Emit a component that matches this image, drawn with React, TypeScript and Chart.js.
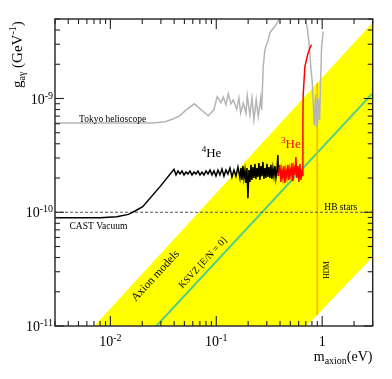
import React, { useEffect, useRef } from 'react';
import { Chart, registerables } from 'chart.js';

Chart.register(...registerables);

// ---- axis ranges & tick labels ----
const X_MIN = 0.003;
const X_MAX = 3;
const Y_MIN = 1e-11;
const Y_MAX = 5e-9;
const X_LABEL_VALUES = [0.01, 0.1, 1];
const X_LABEL_EXPS = ['-2', '-1', ''];
const Y_LABEL_VALUES = [1e-11, 1e-10, 1e-9];
const Y_LABEL_EXPS = ['-11', '-10', '-9'];

// ---- axion model band (upper and lower edges) ----
const AXION_UPPER_M = [0.00706, 3];
const AXION_UPPER_G = [1e-11, 4.66e-9];
const AXION_LOWER_M = [0.00706, 0.713, 3];
const AXION_LOWER_G = [1e-11, 1e-11, 4.06e-11];

// ---- KSVZ line ----
const KSVZ_M = [0.0272, 3];
const KSVZ_G = [1e-11, 1.116e-9];

// ---- HDM line ----
const HDM_M = [0.897, 0.897];
const HDM_G = [1.245e-11, 1.367e-9];

// ---- HB stars ----
const HB_M = [0.003, 3];
const HB_G = [1e-10, 1e-10];

// ---- Tokyo helioscope ----
const TOKYO1_M = [0.003, 0.025, 0.033, 0.039, 0.045, 0.052, 0.062, 0.084, 0.095, 0.102,
  0.1107, 0.1164, 0.1234, 0.1298, 0.1376, 0.1447, 0.1558, 0.1637, 0.1699, 0.1798,
  0.1907, 0.1961, 0.2079, 0.2173, 0.2268, 0.2384, 0.249, 0.2624, 0.2682, 0.2776,
  0.288, 0.3095, 0.321, 0.3579, 0.3928, 0.41];
const TOKYO1_G = [6.1e-10, 6.1e-10, 6.25e-10, 6.6e-10, 7.04e-10, 7.95e-10, 8.98e-10, 7.05e-10, 7.95e-10, 1.04e-9,
  9.22e-10, 1.03e-9, 8.8e-10, 1.1e-9, 8.98e-10, 9.74e-10, 8.06e-10, 1.01e-9, 7.43e-10, 9.11e-10,
  7.43e-10, 1.056e-9, 7.18e-10, 1.01e-9, 6.48e-10, 9.74e-10, 6.94e-10, 1.01e-9, 7.95e-10, 1.91e-9,
  2.69e-9, 3.29e-9, 3.79e-9, 4.31e-9, 4.93e-9, 5.6e-9];
const TOKYO2_M = [0.672, 0.694, 0.722, 0.749, 0.782, 0.805, 0.822, 0.84, 0.866, 0.878,
  0.891, 0.905, 0.917, 0.945, 0.966, 0.987, 1.022];
const TOKYO2_G = [6e-9, 5.04e-9, 4.17e-9, 3.18e-9, 1.86e-9, 1.41e-9, 9.41e-10, 5.86e-10, 1.08e-9, 5.74e-10,
  9.74e-10, 6.0e-10, 1.01e-9, 6.48e-10, 1.41e-9, 2.8e-9, 3.89e-9];

// ---- CAST vacuum + 4He ----
const CAST4_M = [0.003, 0.008, 0.01149, 0.01479, 0.0171, 0.0202, 0.02944, 0.0399, 0.04167,
  0.04351, 0.04545, 0.04747, 0.04958, 0.05178, 0.05408, 0.05648, 0.05899, 0.06161, 0.06434,
  0.0672, 0.07018, 0.0733, 0.07656, 0.07995, 0.08351, 0.08722, 0.09108, 0.09512, 0.09935,
  0.10375, 0.10836, 0.11317, 0.1182, 0.12344, 0.12892, 0.13464, 0.14062, 0.14687, 0.15337,
  0.16019, 0.1673, 0.171, 0.17473, 0.1786, 0.18247, 0.1865, 0.19058, 0.1948, 0.19905,
  0.2034, 0.20787, 0.2125, 0.21711, 0.2219, 0.22675, 0.2318, 0.2368, 0.2421, 0.24732,
  0.2528, 0.2583, 0.2641, 0.26977, 0.2758, 0.28184, 0.288, 0.29434, 0.3008, 0.3074,
  0.3142, 0.32104, 0.3281, 0.33529, 0.3427, 0.35016, 0.3579, 0.36571, 0.3737, 0.38194, 0.3861];
const CAST4_G = [8.95e-11, 8.95e-11, 9.13e-11, 9.58e-11, 1.026e-10, 1.118e-10, 1.68e-10, 2.39e-10, 2.13e-10,
  2.31e-10, 2.17e-10, 2.31e-10, 2.13e-10, 2.26e-10, 2.17e-10, 2.31e-10, 2.13e-10, 2.26e-10, 2.17e-10,
  2.31e-10, 2.13e-10, 2.26e-10, 2.13e-10, 2.31e-10, 2.17e-10, 2.35e-10, 2.13e-10, 2.31e-10, 2.08e-10,
  2.35e-10, 2.13e-10, 2.4e-10, 2.08e-10, 2.35e-10, 2.17e-10, 2.45e-10, 2.04e-10, 2.35e-10, 2.08e-10,
  2.5e-10, 2.0e-10, 2.45e-10, 1.92e-10, 2.55e-10, 2.0e-10, 2.35e-10, 1.81e-10, 2.45e-10, 1.33e-10,
  2.35e-10, 1.85e-10, 2.61e-10, 1.92e-10, 2.5e-10, 2.0e-10, 2.66e-10, 1.96e-10, 2.45e-10, 2.04e-10,
  2.71e-10, 1.92e-10, 2.55e-10, 2.08e-10, 2.77e-10, 1.96e-10, 2.45e-10, 2.0e-10, 2.66e-10, 2.04e-10,
  2.5e-10, 2.0e-10, 2.61e-10, 1.96e-10, 2.45e-10, 2.08e-10, 2.55e-10, 2.0e-10, 2.35e-10, 3.19e-10, 2.08e-10];

// ---- 3He ----
const HE3_M = [0.3861, 0.3903, 0.39892, 0.4076, 0.4166, 0.4257, 0.43511, 0.4446, 0.45446, 0.4645,
  0.47464, 0.485, 0.49574, 0.5066, 0.51782, 0.5291, 0.54075, 0.5526, 0.56481, 0.5772,
  0.58996, 0.6028, 0.61617, 0.6296, 0.64357, 0.65, 0.6575, 0.6619, 0.6868, 0.7284, 0.7656, 0.7943];
const HE3_G = [2.08e-10, 2.08e-10, 2.61e-10, 1.85e-10, 2.35e-10, 2.0e-10, 2.55e-10, 1.81e-10, 2.35e-10, 2.04e-10,
  2.61e-10, 1.92e-10, 2.4e-10, 2.08e-10, 2.71e-10, 1.88e-10, 2.45e-10, 2.13e-10, 3.06e-10, 2.0e-10,
  2.55e-10, 1.85e-10, 2.66e-10, 1.92e-10, 2.35e-10, 2.1e-10, 6.48e-10, 1.08e-9, 1.91e-9, 2.43e-9, 2.78e-9, 2.97e-9];

const FONT = '"Liberation Serif", "Times New Roman", serif';

function pts(ms: number[], gs: number[]) {
  return ms.map((m, i) => ({ x: m, y: gs[i] }));
}

type Part = { t: string; size: number; dy: number };

function drawRich(ctx: CanvasRenderingContext2D, parts: Part[], x: number, y: number, align: 'left' | 'center' | 'right') {
  let w = 0;
  for (const p of parts) {
    ctx.font = `${p.size}px ${FONT}`;
    w += ctx.measureText(p.t).width;
  }
  let cx = align === 'left' ? x : align === 'center' ? x - w / 2 : x - w;
  ctx.textAlign = 'left';
  for (const p of parts) {
    ctx.font = `${p.size}px ${FONT}`;
    ctx.fillText(p.t, cx, y + p.dy);
    cx += ctx.measureText(p.t).width;
  }
}

const framePlugin = {
  id: 'framePlugin',
  afterDraw(chart: any) {
    const { ctx, chartArea: a, scales } = chart;
    const xs = scales.x;
    const ys = scales.y;
    ctx.save();
    ctx.strokeStyle = '#222';
    ctx.lineWidth = 1.4;
    const seg = (x1: number, y1: number, x2: number, y2: number) => {
      ctx.beginPath();
      ctx.moveTo(x1, y1);
      ctx.lineTo(x2, y2);
      ctx.stroke();
    };
    ctx.strokeRect(a.left, a.top, a.right - a.left, a.bottom - a.top);
    ctx.lineWidth = 1.1;
    for (let e = -3; e <= 0; e++) {
      for (let k = 1; k <= 9; k++) {
        const v = k * Math.pow(10, e);
        if (v < X_MIN * 0.999 || v > X_MAX * 1.001) continue;
        const px = xs.getPixelForValue(v);
        const len = k === 1 ? 10 : 5;
        seg(px, a.bottom, px, a.bottom - len);
        seg(px, a.top, px, a.top + len);
      }
    }
    for (let e = -11; e <= -9; e++) {
      for (let k = 1; k <= 9; k++) {
        const v = k * Math.pow(10, e);
        if (v < Y_MIN * 0.999 || v > Y_MAX * 1.001) continue;
        const py = ys.getPixelForValue(v);
        const len = k === 1 ? 9 : 5;
        seg(a.left, py, a.left + len, py);
        seg(a.right, py, a.right - len, py);
      }
    }

    ctx.fillStyle = '#000';
    ctx.textBaseline = 'alphabetic';
    // x tick labels
    X_LABEL_VALUES.forEach((v, i) => {
      const px = xs.getPixelForValue(v);
      const parts: Part[] = X_LABEL_EXPS[i]
        ? [{ t: '10', size: 14, dy: 0 }, { t: X_LABEL_EXPS[i], size: 10, dy: -5 }]
        : [{ t: '1', size: 14, dy: 0 }];
      drawRich(ctx, parts, px, a.bottom + 20, 'center');
    });
    // y tick labels
    Y_LABEL_VALUES.forEach((v, i) => {
      const py = ys.getPixelForValue(v);
      drawRich(ctx, [{ t: '10', size: 14, dy: 0 }, { t: Y_LABEL_EXPS[i], size: 10, dy: -5 }], a.left - 2, py + 5, 'right');
    });
    // x title
    drawRich(ctx, [
      { t: 'm', size: 14, dy: 0 },
      { t: 'axion', size: 10, dy: 3 },
      { t: '(eV)', size: 14, dy: 0 },
    ], 372.5, 361, 'right');
    // y title
    ctx.save();
    ctx.translate(21.5, 88);
    ctx.rotate(-Math.PI / 2);
    drawRich(ctx, [
      { t: 'g', size: 15, dy: 0 },
      { t: 'aγ', size: 10, dy: 3 },
      { t: ' (GeV', size: 15, dy: 0 },
      { t: '-1', size: 10, dy: -6 },
      { t: ')', size: 15, dy: 0 },
    ], 0, 0, 'left');
    ctx.restore();

    // annotations
    drawRich(ctx, [{ t: 'Tokyo helioscope', size: 9.5, dy: 0 }], 79, 121.7, 'left');
    drawRich(ctx, [{ t: 'CAST Vacuum', size: 9.5, dy: 0 }], 69.5, 228.8, 'left');
    drawRich(ctx, [{ t: 'HB stars', size: 9.5, dy: 0 }], 324.3, 210, 'left');
    drawRich(ctx, [{ t: '4', size: 9, dy: -5 }, { t: 'He', size: 13, dy: 0 }], 201.7, 156.5, 'left');
    ctx.fillStyle = '#ff0000';
    drawRich(ctx, [{ t: '3', size: 9, dy: -5 }, { t: 'He', size: 13, dy: 0 }], 281, 147.5, 'left');
    ctx.fillStyle = '#000';

    ctx.textBaseline = 'middle';
    const ang = (-47.3 * Math.PI) / 180;
    ctx.save();
    ctx.translate(155.5, 276);
    ctx.rotate(ang);
    drawRich(ctx, [{ t: 'Axion models', size: 11.5, dy: 0 }], 0, 0, 'center');
    ctx.restore();
    ctx.save();
    ctx.translate(203, 263);
    ctx.rotate(ang);
    drawRich(ctx, [{ t: 'KSVZ [E/N = 0]', size: 9.8, dy: 0 }], 0, 0, 'center');
    ctx.restore();
    ctx.save();
    ctx.translate(326.7, 270);
    ctx.rotate(-Math.PI / 2);
    drawRich(ctx, [{ t: 'HDM', size: 7.5, dy: 0 }], 0, 0, 'center');
    ctx.restore();

    ctx.restore();
  },
};

const lineDs = (label: string, ms: number[], gs: number[], color: string, width: number, order: number, extra: any = {}) => ({
  label,
  data: pts(ms, gs),
  borderColor: color,
  borderWidth: width,
  pointRadius: 0,
  fill: false,
  tension: 0,
  order,
  ...extra,
});

export default function App() {
  const ref = useRef<HTMLCanvasElement>(null);
  useEffect(() => {
    const chart = new Chart(ref.current as HTMLCanvasElement, {
      type: 'line',
      data: {
        datasets: [
          lineDs('Axion models upper', AXION_UPPER_M, AXION_UPPER_G, 'rgba(0,0,0,0)', 0, 20, { fill: '+1', backgroundColor: '#ffff00' }),
          lineDs('Axion models lower', AXION_LOWER_M, AXION_LOWER_G, 'rgba(0,0,0,0)', 0, 21),
          lineDs('KSVZ', KSVZ_M, KSVZ_G, '#50cf88', 2, 6),
          lineDs('HDM', HDM_M, HDM_G, '#ffb400', 1.6, 5),
          lineDs('HB stars', HB_M, HB_G, '#555555', 1, 4, { borderDash: [3, 2] }),
          lineDs('Tokyo helioscope', TOKYO1_M, TOKYO1_G, '#b5b5b5', 1.5, 3),
          lineDs('Tokyo helioscope 2', TOKYO2_M, TOKYO2_G, '#b5b5b5', 1.5, 3),
          lineDs('CAST 4He', CAST4_M, CAST4_G, '#000000', 1.5, 2),
          lineDs('CAST 3He', HE3_M, HE3_G, '#ff0000', 1.5, 1),
        ],
      },
      options: {
        responsive: false,
        animation: false,
        devicePixelRatio: 1,
        events: [],
        layout: { padding: { left: 55, right: 19.3, top: 19, bottom: 53 } },
        scales: {
          x: { type: 'logarithmic', min: X_MIN, max: X_MAX, display: false },
          y: { type: 'logarithmic', min: Y_MIN, max: Y_MAX, display: false },
        },
        plugins: { legend: { display: false }, tooltip: { enabled: false } },
      },
      plugins: [framePlugin],
    } as any);
    return () => chart.destroy();
  }, []);
  return (
    <div style={{ position: 'absolute', left: 0, top: 0, width: 392, height: 379, background: '#fff' }}>
      <canvas ref={ref} width={392} height={379} style={{ display: 'block' }} />
    </div>
  );
}
